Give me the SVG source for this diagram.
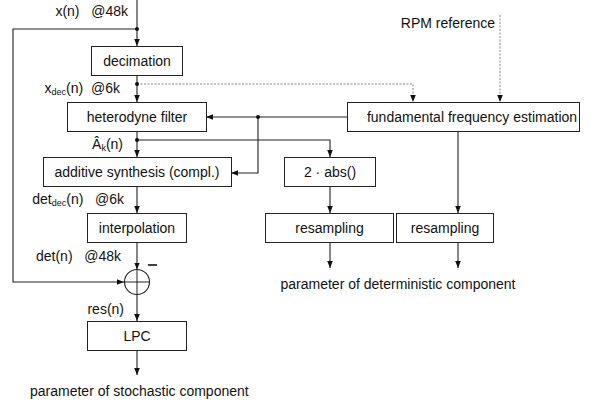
<svg xmlns="http://www.w3.org/2000/svg" width="611" height="404" viewBox="0 0 611 404">
<style>
text{font-family:"Liberation Sans",Arial,sans-serif;font-size:14px;fill:#111}
.c{text-anchor:middle}
.e{text-anchor:end}
.box rect{fill:#fff;stroke:#222;stroke-width:1}
.ln{fill:none;stroke:#222;stroke-width:1.1}
.dt{fill:none;stroke:#777;stroke-width:0.9;stroke-dasharray:2 1.5}
.sub{font-size:9px}
</style>
<defs>
<marker id="a" viewBox="0 0 8 8" refX="8" refY="4" markerWidth="7" markerHeight="7" markerUnits="userSpaceOnUse" orient="auto"><path d="M0,0.8 L8,4 L0,7.2Z" fill="#111"/></marker>
</defs>
<g id="connectors">
<path class="ln" d="M137,0 V46" marker-end="url(#a)"/>
<path class="ln" d="M137,29 H13 V282 H124" marker-end="url(#a)"/>
<path class="ln" d="M137,75 V102" marker-end="url(#a)"/>
<path class="dt" d="M137,84 H413 V102" marker-end="url(#a)"/>
<path class="dt" d="M500,15 V102" marker-end="url(#a)"/>
<path class="ln" d="M347,117 H206" marker-end="url(#a)"/>
<path class="ln" d="M258,117 V173 H231" marker-end="url(#a)"/>
<path class="ln" d="M137,131 V157" marker-end="url(#a)"/>
<path class="ln" d="M137,140 H330 V157" marker-end="url(#a)"/>
<path class="ln" d="M137,187 V213" marker-end="url(#a)"/>
<path class="ln" d="M137,243 V269.5" marker-end="url(#a)"/>
<path class="ln" d="M137,294.5 V321" marker-end="url(#a)"/>
<path class="ln" d="M137,350 V375" marker-end="url(#a)"/>
<path class="ln" d="M330,187 V213" marker-end="url(#a)"/>
<path class="ln" d="M458,131 V213" marker-end="url(#a)"/>
<path class="ln" d="M330,243 V268" marker-end="url(#a)"/>
<path class="ln" d="M458,243 V268" marker-end="url(#a)"/>
<circle cx="137" cy="29" r="2" fill="#111"/>
<circle cx="137" cy="84" r="2" fill="#111"/>
<circle cx="137" cy="140" r="2" fill="#111"/>
<circle cx="258" cy="117" r="2" fill="#111"/>
<line x1="148" y1="265" x2="157" y2="265" stroke="#111" stroke-width="1.6"/>
</g>
<g id="decimation" class="box"><rect x="91.5" y="46.5" width="91" height="29"/><text class="c" x="137" y="66">decimation</text></g>
<g id="heterodyne" class="box"><rect x="67.5" y="102.5" width="139" height="29"/><text class="c" x="137" y="122">heterodyne filter</text></g>
<g id="ffe" class="box"><rect x="347.5" y="102.5" width="232" height="29"/><text class="c" x="472" y="122">fundamental frequency estimation</text></g>
<g id="additive" class="box"><rect x="43.5" y="157.5" width="188" height="29"/><text class="c" x="137" y="177">additive synthesis (compl.)</text></g>
<g id="abs" class="box"><rect x="284.5" y="157.5" width="91" height="29"/><text class="c" x="330" y="177">2 · abs()</text></g>
<g id="interpolation" class="box"><rect x="87.5" y="213.5" width="99" height="29"/><text class="c" x="137" y="233">interpolation</text></g>
<g id="resampling1" class="box"><rect x="265.5" y="213.5" width="128" height="29"/><text class="c" x="329.5" y="233">resampling</text></g>
<g id="resampling2" class="box"><rect x="396.5" y="213.5" width="97" height="29"/><text class="c" x="445" y="233">resampling</text></g>
<g id="sum"><circle cx="137" cy="282" r="12.5" fill="#fff" stroke="#222" stroke-width="1.1"/><path d="M137,269.5 V294.5 M124.5,282 H149.5" stroke="#222" stroke-width="1"/></g>
<g id="lpc" class="box"><rect x="87.5" y="321.5" width="99" height="29"/><text class="c" x="137" y="341">LPC</text></g>
<g id="labels">
<text class="e" x="128" y="16">x(n)&#160;&#160; @48k</text>
<text class="e" x="120" y="93">x<tspan class="sub" dy="2">dec</tspan><tspan dy="-2">(n)&#160; @6k</tspan></text>
<text class="e" x="123" y="149">Â<tspan class="sub" dy="2">k</tspan><tspan dy="-2">(n)</tspan></text>
<text class="e" x="124" y="204">det<tspan class="sub" dy="2">dec</tspan><tspan dy="-2">(n)&#160;&#160; @6k</tspan></text>
<text class="e" x="121" y="261">det(n)&#160;&#160; @48k</text>
<text class="e" x="124" y="314">res(n)</text>
<text class="e" x="495" y="28">RPM reference</text>
<text class="c" x="398" y="289">parameter of deterministic component</text>
<text x="30" y="396">parameter of stochastic component</text>
</g>
</svg>
